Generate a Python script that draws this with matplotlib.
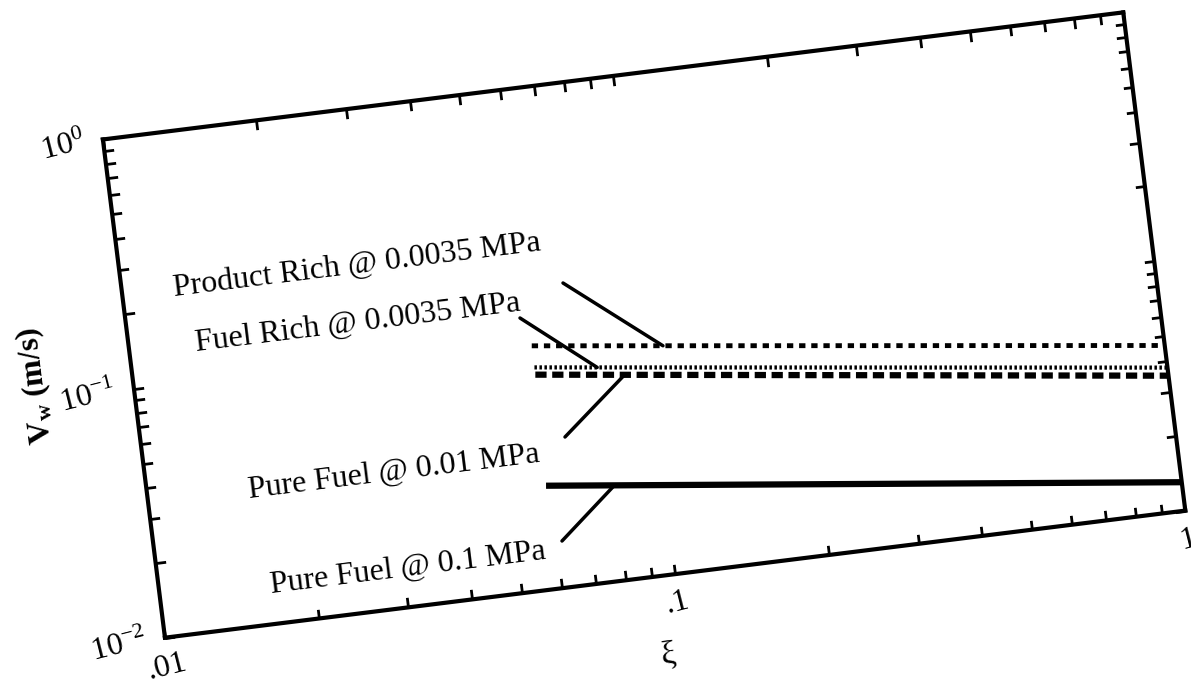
# Wall velocity vs xi, redrawn from a tilted scan
# - log-log axes drawn as a rotated floating axes
# - four series + leader-line labels

# %%
import numpy as np
import matplotlib
matplotlib.use("Agg")
from matplotlib import pyplot as plt
from matplotlib.transforms import Affine2D, blended_transform_factory
from matplotlib.scale import LogTransform
import mpl_toolkits.axisartist.floating_axes as floating_axes
from mpl_toolkits.axisartist.grid_finder import FixedLocator, DictFormatter

plt.rcParams['font.family'] = 'serif'
plt.rcParams['font.serif'] = ['Liberation Serif', 'DejaVu Serif']
plt.rcParams['mathtext.fontset'] = 'custom'
plt.rcParams['mathtext.rm'] = 'Liberation Serif'
plt.rcParams['mathtext.it'] = 'Liberation Serif:italic'
plt.rcParams['mathtext.bf'] = 'Liberation Serif:bold'

# %% Values
xi = [0.06, 1.0]
product_rich = [0.094, 0.046]
fuel_rich = [0.077, 0.0375]
pure_fuel_001 = [0.072, 0.0348]
pure_fuel_01 = [0.0258, 0.0130]

xticks = [0.01, 0.1, 1.0]
xticklabels = ['.01', '.1', '1']
yticks = [0.01, 0.1, 1.0]
yticklabels = [r'$10^{-2}$', r'$10^{-1}$', r'$10^{0}$']
minor_ticks = [m * 10.0 ** e for e in (-2, -1) for m in range(2, 10)]

xlabel = 'ξ'
ylabel = r'$\mathbf{V_w}$ (m/s)'
labels = ['Product Rich @ 0.0035 MPa', 'Fuel Rich @ 0.0035 MPa',
          'Pure Fuel @ 0.01 MPa', 'Pure Fuel @ 0.1 MPa']
# label centres and leader starts, figure pixels from the bottom left
label_pos = [(357, 430), (358, 373), (394, 224), (408, 128)]
leader_from = [(563, 413), (520, 378), (565, 259), (562, 155)]
leader_xi = [0.1075, 0.0793, 0.0892, 0.0802]

# %% Rotated log-log frame
angle = 7.1
tr = blended_transform_factory(LogTransform(10), LogTransform(10)) + \
    Affine2D().scale(2.048, 1.0).rotate_deg(angle)

grid_helper = floating_axes.GridHelperCurveLinear(
    tr, extremes=(0.01, 1.0, 0.01, 1.0),
    grid_locator1=FixedLocator(sorted(xticks + minor_ticks)),
    grid_locator2=FixedLocator(sorted(yticks + minor_ticks)),
    tick_formatter1=DictFormatter(dict(zip(xticks, xticklabels))),
    tick_formatter2=DictFormatter(dict(zip(yticks, yticklabels))))

fig = plt.figure(figsize=(11.91, 6.96), dpi=100)
ax = fig.add_axes([0.0773, 0.074, 0.927, 0.918],
                  axes_class=floating_axes.FloatingAxes,
                  grid_helper=grid_helper)
aux = ax.get_aux_axes(tr)
aux.patch = ax.patch
ax.patch.zorder = 0.9

for side in ['left', 'right', 'top', 'bottom']:
    a = ax.axis[side]
    a.line.set_linewidth(3)
    a.major_ticks.set_ticksize(7)
    a.major_ticks.set_markeredgewidth(2)
    a.major_ticklabels.set_fontsize(23)
    a.label.set_visible(False)
ax.axis['top'].major_ticklabels.set_visible(False)
ax.axis['right'].major_ticklabels.set_visible(False)
ax.axis['left'].major_ticklabels.set_rotation(90 + angle)
ax.axis['left'].major_ticklabels.set_pad(13)
ax.axis['bottom'].major_ticklabels.set_rotation(angle)
ax.axis['bottom'].major_ticklabels.set_pad(11)

fig.text(668 / 1191, 41 / 696, xlabel, fontsize=24, rotation=angle,
         rotation_mode='anchor', ha='center', va='center')
fig.text(36 / 1191, 311 / 696, ylabel, fontsize=23, fontweight='bold',
         rotation=90 + angle, rotation_mode='anchor',
         ha='center', va='center')

# %% Series
aux.plot(xi, product_rich, color='k', lw=3.5, ls=(0, (1.3, 1.2)))
aux.plot(xi, fuel_rich, color='k', lw=3, ls=(0, (0.6, 0.6)))
aux.plot(xi, pure_fuel_001, color='k', lw=4.5, ls=(0, (1.8, 0.9)))
aux.plot(xi, pure_fuel_01, color='k', lw=4.5)

# %% Labels with leader lines
for text, pos, start, xa, (xs, ys) in zip(
        labels, label_pos, leader_from, leader_xi,
        [(xi, product_rich), (xi, fuel_rich), (xi, pure_fuel_001), (xi, pure_fuel_01)]):
    ya = 10 ** np.interp(np.log10(xa), np.log10(xs), np.log10(ys))
    aux.annotate('', xy=(xa, ya), xycoords='data',
                 xytext=start, textcoords='figure pixels',
                 arrowprops=dict(arrowstyle='-', lw=2.5, color='k',
                                 shrinkA=0, shrinkB=0))
    fig.text(pos[0] / 1191, pos[1] / 696, text, fontsize=23,
             rotation=angle, rotation_mode='anchor',
             ha='center', va='center')

fig.savefig('out.png', dpi=100)
